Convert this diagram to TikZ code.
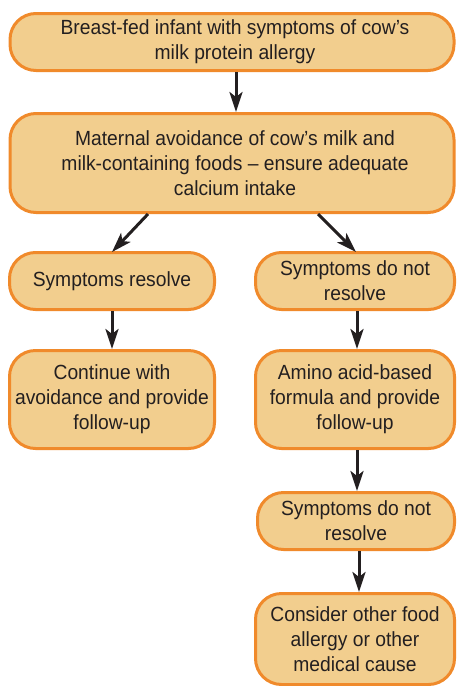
\documentclass[tikz,border=0pt]{standalone}
\usepackage{fontspec}
\setmainfont[FakeStretch=0.94]{Liberation Sans}
\usetikzlibrary{arrows.meta}
\definecolor{boxfill}{HTML}{F2CE8E}
\definecolor{boxline}{HTML}{F08A2B}
\definecolor{txt}{HTML}{231F20}
\tikzset{
  flowbox/.style={draw=boxline, line width=3pt, fill=boxfill, rounded corners=26pt,
    align=center, text=txt, inner sep=0pt,
    font=\fontsize{20.5pt}{25pt}\selectfont},
  flowarrow/.style={-{Stealth[length=20pt,width=13pt,inset=5pt]}, line width=3pt, draw=txt}
}
\begin{document}
\begin{tikzpicture}[x=1pt,y=-1pt]
\useasboundingbox (0,0) rectangle (456,686);
\node[flowbox, minimum width=444pt, minimum height=57pt] (n1) at (232,42) {\hspace*{6pt}Breast-fed infant with symptoms of cow’s\\\hspace*{6pt}milk protein allergy};
\node[flowbox, minimum width=444pt, minimum height=99pt] (n2) at (232,163) {\hspace*{6pt}Maternal avoidance of cow’s milk and\\\hspace*{6pt}milk-containing foods – ensure adequate\\\hspace*{6pt}calcium intake};
\node[flowbox, minimum width=205pt, minimum height=57pt] (n3) at (112,281) {Symptoms resolve};
\node[flowbox, minimum width=199pt, minimum height=57pt] (n4) at (355,281) {Symptoms do not\\resolve};
\node[flowbox, minimum width=205pt, minimum height=98pt] (n5) at (112,399.5) {Continue with\\avoidance and provide\\follow-up};
\node[flowbox, minimum width=199pt, minimum height=98pt] (n6) at (355,399.5) {Amino acid-based\\formula and provide\\follow-up};
\node[flowbox, minimum width=197pt, minimum height=57pt] (n7) at (356,521) {Symptoms do not\\resolve};
\node[flowbox, minimum width=199pt, minimum height=91pt] (n8) at (355,639) {Consider other food\\allergy or other\\medical cause};
\draw[flowarrow] ([xshift=4pt]n1.south) -- ([xshift=4pt]n2.north);
\draw[flowarrow] ([xshift=-84pt]n2.south) -- ([yshift=-1pt]n3.north);
\draw[flowarrow] ([xshift=86pt]n2.south) -- ([xshift=1pt,yshift=-1pt]n4.north);
\draw[flowarrow] (n3.south) -- (n5.north);
\draw[flowarrow] ([xshift=2pt]n4.south) -- ([xshift=2pt]n6.north);
\draw[flowarrow] ([xshift=2pt]n6.south) -- ([xshift=1pt]n7.north);
\draw[flowarrow] ([xshift=3pt]n7.south) -- ([xshift=4pt]n8.north);
\end{tikzpicture}
\end{document}
